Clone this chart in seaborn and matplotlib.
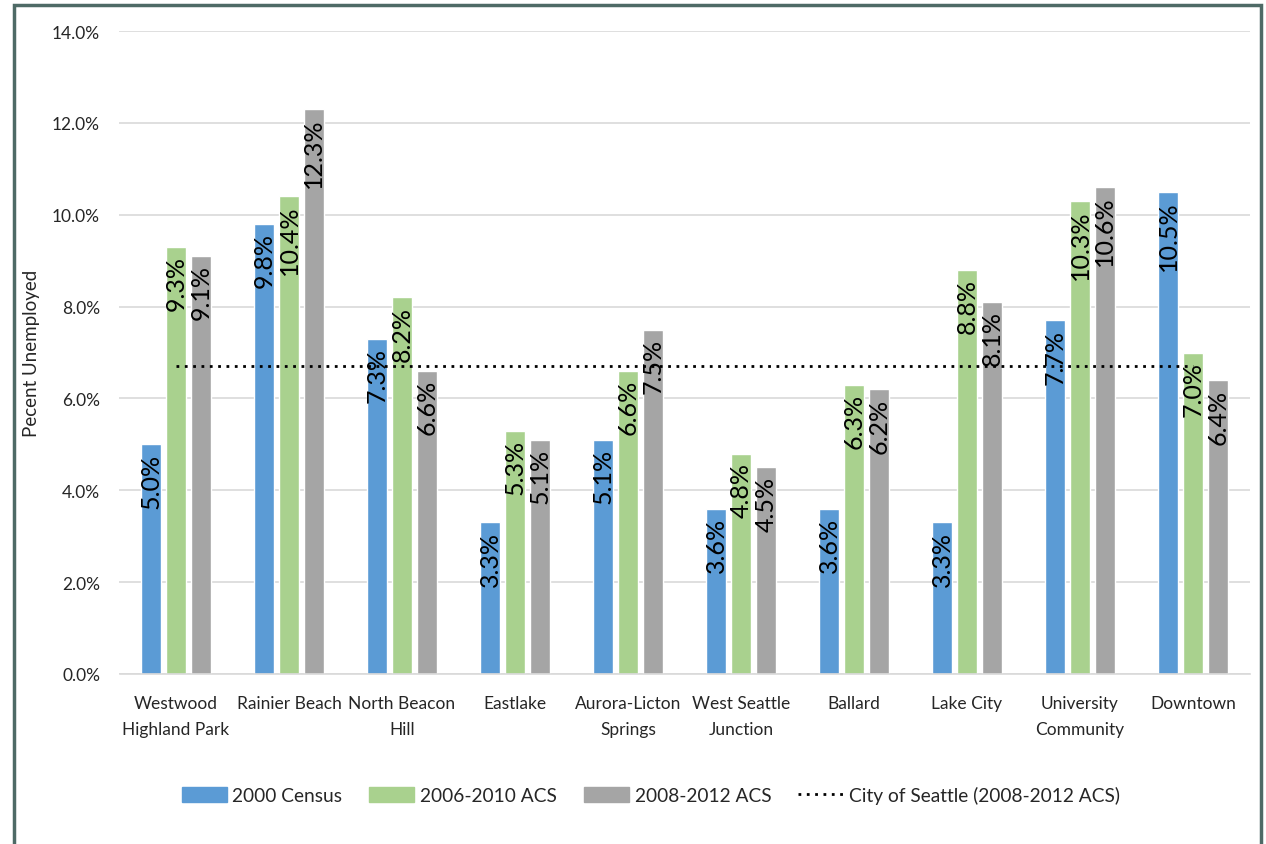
import matplotlib
matplotlib.use("Agg")
import matplotlib.pyplot as plt
import matplotlib.patches as mpatches
from matplotlib.lines import Line2D
import seaborn as sns
import pandas as pd

# ---- data ----
neighborhoods = ["Westwood Highland Park", "Rainier Beach", "North Beacon Hill", "Eastlake",
                 "Aurora-Licton Springs", "West Seattle Junction", "Ballard", "Lake City",
                 "University Community", "Downtown"]
tick_labels = ["Westwood\nHighland Park", "Rainier Beach", "North Beacon\nHill", "Eastlake",
               "Aurora-Licton\nSprings", "West Seattle\nJunction", "Ballard", "Lake City",
               "University\nCommunity", "Downtown"]
series_names = ["2000 Census", "2006-2010 ACS", "2008-2012 ACS"]
census_2000 = [5.0, 9.8, 7.3, 3.3, 5.1, 3.6, 3.6, 3.3, 7.7, 10.5]
acs_2006_2010 = [9.3, 10.4, 8.2, 5.3, 6.6, 4.8, 6.3, 8.8, 10.3, 7.0]
acs_2008_2012 = [9.1, 12.3, 6.6, 5.1, 7.5, 4.5, 6.2, 8.1, 10.6, 6.4]
city_name = "City of Seattle (2008-2012 ACS)"
city_rate = 6.7
y_ticks = [0, 2, 4, 6, 8, 10, 12, 14]

colors = ["#5B9BD5", "#A9D18E", "#A5A5A5"]

df = pd.DataFrame({
    "Neighborhood": neighborhoods * 3,
    "Series": [series_names[0]] * 10 + [series_names[1]] * 10 + [series_names[2]] * 10,
    "Value": census_2000 + acs_2006_2010 + acs_2008_2012,
})

sns.set_style("white")
plt.rcParams["font.family"] = ["Lato", "DejaVu Sans"]

fig = plt.figure(figsize=(12.66, 8.45), dpi=100)
ax = fig.add_axes([119.5 / 1266, 1 - 675 / 845, 1130 / 1266, (675 - 32) / 845])

sns.barplot(data=df, x="Neighborhood", y="Value", hue="Series", order=neighborhoods,
            hue_order=series_names, palette=colors, width=0.66, gap=0.2,
            saturation=1, ax=ax, legend=False)

for cont in ax.containers:
    texts = ax.bar_label(cont, fmt="%.1f%%", label_type="edge", padding=-6,
                         rotation=90, fontsize=18, color="black")
    for t in texts:
        t.set_va("top")

ax.plot([0, len(neighborhoods) - 1], [city_rate, city_rate], color="black",
        linestyle=(0, (1, 2)), linewidth=2.0, zorder=5)

ax.set_xlim(-0.5, len(neighborhoods) - 0.5)
ax.set_ylim(0, 14)
ax.set_yticks(y_ticks)
ax.set_yticklabels([f"{v:.1f}%" for v in y_ticks], fontsize=12.5)
ax.set_xticks(range(len(neighborhoods)))
ax.set_xticklabels(tick_labels, fontsize=12.5, linespacing=1.75)
ax.tick_params(axis="both", length=0)
ax.tick_params(axis="y", pad=14)
ax.tick_params(axis="x", pad=15)
ax.set_xlabel("")
ax.set_ylabel("Pecent Unemployed", fontsize=13.5)
ax.yaxis.set_label_coords(-0.070, 0.5)
ax.grid(axis="y", color="#D9D9D9", linewidth=1.2)
ax.set_axisbelow(True)
for s in ["left", "right", "top"]:
    ax.spines[s].set_visible(False)
ax.spines["bottom"].set_color("#D9D9D9")
ax.spines["bottom"].set_linewidth(1.2)

handles = [mpatches.Patch(color=c, label=n) for c, n in zip(colors, series_names)]
handles.append(Line2D([0], [0], color="black", linestyle=(0, (1, 2)), linewidth=2.0,
                      label=city_name))
fig.legend(handles=handles, loc="center", bbox_to_anchor=(0.514, 1 - 796 / 845), ncol=4,
           frameon=False, fontsize=13.8, handlelength=2.35, handleheight=0.85,
           handletextpad=0.3, columnspacing=1.4)

fig.add_artist(mpatches.Rectangle((14 / 1266, -0.02), (1261 - 14) / 1266, 1.02 - 6 / 845,
                                  transform=fig.transFigure, fill=False,
                                  edgecolor="#4E6A66", linewidth=2.5))

fig.savefig("out.png", dpi=100)
